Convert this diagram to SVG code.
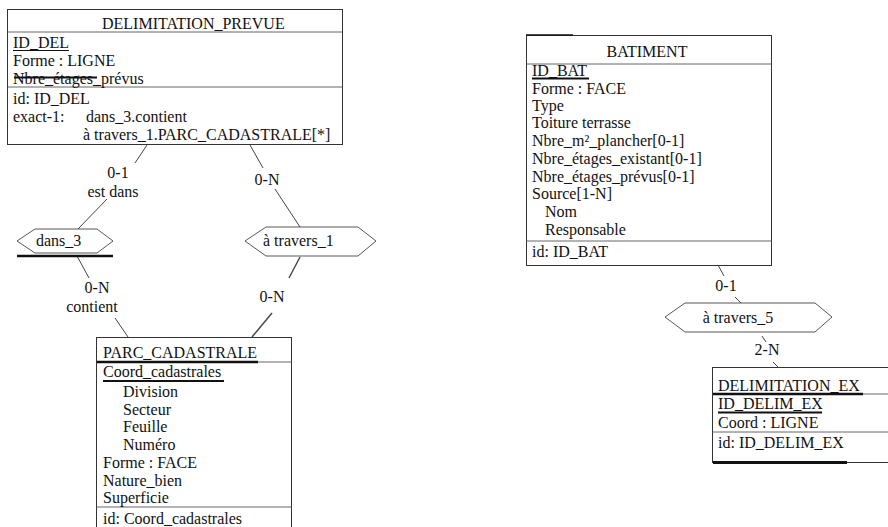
<svg xmlns="http://www.w3.org/2000/svg" width="888" height="527" viewBox="0 0 888 527">
<style>
text{font-family:"Liberation Serif","Times New Roman",serif;font-size:16px;fill:#111}
.box{fill:#fff;stroke:#333;stroke-width:1}
.sep{stroke:#555;stroke-width:0.9}
.ul{stroke:#111;stroke-width:1.2}
.thick{stroke:#111;stroke-width:2.4}
.hex{fill:#fff;stroke:#444;stroke-width:0.9}
.c{stroke:#444;stroke-width:1;fill:none}
.m{text-anchor:middle}
</style>
<rect width="888" height="527" fill="#fff"/>
<g id="connectors">
<line class="c" x1="147" y1="145" x2="135" y2="163"/>
<line class="c" x1="107" y1="199" x2="78" y2="229"/>
<line class="c" x1="77" y1="256" x2="89" y2="278"/>
<line class="c" x1="115" y1="318" x2="128" y2="337"/>
<line class="c" x1="250" y1="145" x2="263" y2="168"/>
<line class="c" x1="275" y1="189" x2="300" y2="227"/>
<line class="c" x1="300" y1="257" x2="289" y2="278" style="stroke-width:1.4"/>
<line class="c" x1="272" y1="313" x2="252" y2="337" style="stroke-width:1.4"/>
<line class="c" x1="718" y1="265" x2="724" y2="276"/>
<line class="c" x1="735" y1="297" x2="741" y2="303"/>
<line class="c" x1="762" y1="336" x2="766" y2="342"/>
<line class="c" x1="773" y1="362" x2="778" y2="367"/>
<text class="m" x="118" y="178">0-1</text>
<text class="m" x="113" y="197">est dans</text>
<text class="m" x="97" y="293">0-N</text>
<text class="m" x="92" y="312">contient</text>
<text class="m" x="267" y="185">0-N</text>
<text class="m" x="272" y="302">0-N</text>
<text class="m" x="726" y="291">0-1</text>
<text class="m" x="767" y="355">2-N</text>
</g>
<g id="DELIMITATION_PREVUE">
<rect class="box" x="7.5" y="9.5" width="335" height="135"/>
<line class="sep" x1="7.5" y1="32" x2="342.5" y2="32"/>
<line class="sep" x1="7.5" y1="87" x2="342.5" y2="87"/>
<text x="102" y="29">DELIMITATION_PREVUE</text>
<text x="13" y="48">ID_DEL</text>
<line class="ul" x1="13" y1="50.5" x2="69" y2="50.5"/>
<text x="13" y="66">Forme : LIGNE</text>
<text x="13" y="84">Nbre_étages_prévus</text>
<line class="thick" x1="14" y1="77.5" x2="97" y2="77.5" style="stroke-width:1.8"/>
<text x="13" y="104">id: ID_DEL</text>
<text x="13" y="122">exact-1:</text>
<text x="86" y="122">dans_3.contient</text>
<text x="83" y="140">à travers_1.PARC_CADASTRALE[*]</text>
</g>
<g id="dans_3">
<polygon class="hex" points="17,241 35,229 97,229 113,241 97,253 35,253"/>
<line class="thick" x1="17" y1="256" x2="113" y2="256"/>
<text x="36" y="246">dans_3</text>
</g>
<g id="a_travers_1">
<polygon class="hex" points="245,241 266,227 358,227 376,241 358,256 266,256"/>
<text x="263" y="246">à travers_1</text>
</g>
<g id="PARC_CADASTRALE">
<rect class="box" x="96.5" y="337.5" width="195" height="200"/>
<line class="sep" x1="258" y1="362" x2="291.5" y2="362"/>
<line class="thick" x1="97" y1="362" x2="258" y2="362"/>
<line class="sep" x1="96.5" y1="507" x2="291.5" y2="507"/>
<text x="103" y="358">PARC_CADASTRALE</text>
<text x="103" y="377">Coord_cadastrales</text>
<line class="thick" x1="103" y1="381" x2="224" y2="381" style="stroke-width:1.8"/>
<text x="123" y="397">Division</text>
<text x="123" y="415">Secteur</text>
<text x="123" y="432">Feuille</text>
<text x="123" y="450">Numéro</text>
<text x="103" y="468">Forme : FACE</text>
<text x="103" y="486">Nature_bien</text>
<text x="103" y="503">Superficie</text>
<text x="103" y="524">id: Coord_cadastrales</text>
</g>
<g id="BATIMENT">
<rect class="box" x="526.5" y="35.5" width="245" height="230"/>
<line class="thick" x1="526" y1="35" x2="573" y2="35" style="stroke-width:1.6"/>
<line class="sep" x1="526.5" y1="64" x2="771.5" y2="64"/>
<line class="sep" x1="526.5" y1="241" x2="771.5" y2="241"/>
<text class="m" x="647" y="57">BATIMENT</text>
<text x="532" y="76">ID_BAT</text>
<line class="thick" x1="532" y1="78.5" x2="589" y2="78.5" style="stroke-width:1.8"/>
<text x="532" y="94">Forme : FACE</text>
<text x="532" y="111">Type</text>
<text x="532" y="128">Toiture terrasse</text>
<text x="532" y="146">Nbre_m²_plancher[0-1]</text>
<text x="532" y="164">Nbre_étages_existant[0-1]</text>
<text x="532" y="182">Nbre_étages_prévus[0-1]</text>
<text x="532" y="199">Source[1-N]</text>
<text x="545" y="217">Nom</text>
<text x="545" y="235">Responsable</text>
<text x="532" y="257">id: ID_BAT</text>
</g>
<g id="a_travers_5">
<polygon class="hex" points="665,317 685,303 815,303 832,317 815,332 685,332"/>
<text class="m" x="738" y="323">à travers_5</text>
</g>
<g id="DELIMITATION_EX">
<rect class="box" x="712.5" y="367.5" width="180" height="95"/>
<line class="sep" x1="863" y1="394" x2="888" y2="394"/>
<line class="thick" x1="713" y1="394" x2="863" y2="394"/>
<line class="sep" x1="712.5" y1="432" x2="888" y2="432"/>
<line class="thick" x1="713" y1="462.5" x2="847" y2="462.5" style="stroke-width:2.8"/>
<text x="718" y="391">DELIMITATION_EX</text>
<text x="718" y="409">ID_DELIM_EX</text>
<line class="thick" x1="718" y1="412.5" x2="822" y2="412.5" style="stroke-width:1.8"/>
<text x="718" y="428">Coord : LIGNE</text>
<text x="718" y="448">id: ID_DELIM_EX</text>
</g>
</svg>
